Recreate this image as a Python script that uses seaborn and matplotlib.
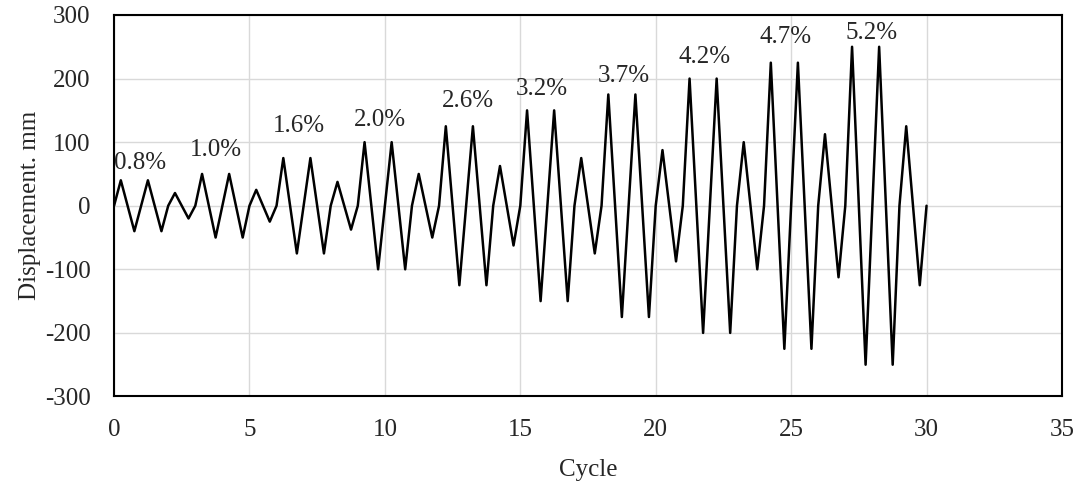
import numpy as np
import pandas as pd
import seaborn as sns
import matplotlib.pyplot as plt

# displacement history, 4 points per cycle (0, +A, 0, -A)
disp = [
    0, 40, 0, -40, 0, 40, 0, -40, 0, 20, 0, -20,
    0, 50, 0, -50, 0, 50, 0, -50, 0, 25, 0, -25,
    0, 75, 0, -75, 0, 75, 0, -75, 0, 37.5, 0, -37.5,
    0, 100, 0, -100, 0, 100, 0, -100, 0, 50, 0, -50,
    0, 125, 0, -125, 0, 125, 0, -125, 0, 62.5, 0, -62.5,
    0, 150, 0, -150, 0, 150, 0, -150, 0, 75, 0, -75,
    0, 175, 0, -175, 0, 175, 0, -175, 0, 87.5, 0, -87.5,
    0, 200, 0, -200, 0, 200, 0, -200, 0, 100, 0, -100,
    0, 225, 0, -225, 0, 225, 0, -225, 0, 112.5, 0, -112.5,
    0, 250, 0, -250, 0, 250, 0, -250, 0, 125, 0, -125,
    0,
]
cycle = np.arange(len(disp)) * 0.25

drift_labels = ['0.8%', '1.0%', '1.6%', '2.0%', '2.6%', '3.2%', '3.7%', '4.2%', '4.7%', '5.2%']
label_x = [0.95, 3.77, 6.83, 9.82, 13.07, 15.8, 18.83, 21.8, 24.8, 27.97]
label_y = [50, 70, 108, 117, 147, 167, 186, 216, 248, 255]

df = pd.DataFrame({'Cycle': cycle, 'Displacement': disp})

sns.set_style('white')
plt.rcParams['font.family'] = ['Liberation Serif', 'DejaVu Serif']
plt.rcParams['axes.unicode_minus'] = False

fig = plt.figure(figsize=(10.79, 4.82), dpi=100)
ax = fig.add_axes([0.1057, 0.1774, 0.8785, 0.7915])

sns.lineplot(data=df, x='Cycle', y='Displacement', color='black', lw=1.8, ax=ax)

for t, x, y in zip(drift_labels, label_x, label_y):
    ax.text(x, y, t, ha='center', va='bottom', fontsize=18)

ax.set_xlim(0, 35)
ax.set_ylim(-300, 300)
ax.set_xticks(range(0, 36, 5))
ax.set_yticks(range(-300, 301, 100))
ax.grid(True, color='#d9d9d9', lw=1)
ax.set_axisbelow(True)
for s in ax.spines.values():
    s.set_color('black')
    s.set_linewidth(1.5)
ax.tick_params(axis='both', length=0, labelsize=18)
ax.tick_params(axis='x', pad=16)
ax.tick_params(axis='y', pad=17)
ax.set_xlabel('Cycle', fontsize=18, labelpad=13)
ax.set_ylabel('Displacement. mm', fontsize=18, labelpad=3)

fig.savefig('out.png', dpi=100)
